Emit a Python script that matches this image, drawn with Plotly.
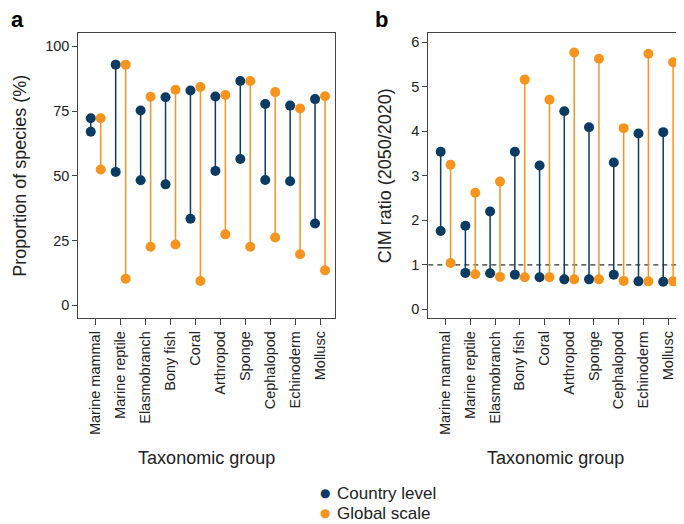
import plotly.graph_objects as go

categories = ["Marine mammal", "Marine reptile", "Elasmobranch", "Bony fish", "Coral",
              "Arthropod", "Sponge", "Cephalopod", "Echinoderm", "Mollusc"]

# Panel a: proportion of species (%)
a_country_high = [72.2, 92.9, 75.2, 80.3, 82.9, 80.6, 86.6, 77.7, 77.1, 79.6]
a_country_low = [67.0, 51.5, 48.3, 46.7, 33.4, 51.9, 56.5, 48.4, 47.9, 31.6]
a_global_high = [72.2, 92.9, 80.5, 83.2, 84.3, 81.2, 86.6, 82.3, 76.0, 80.7]
a_global_low = [52.4, 10.3, 22.6, 23.5, 9.4, 27.4, 22.6, 26.2, 19.7, 13.5]

# Panel b: CIM ratio (2050/2020)
b_country_high = [3.54, 1.88, 2.20, 3.54, 3.23, 4.45, 4.09, 3.30, 3.95, 3.98]
b_country_low = [1.76, 0.82, 0.81, 0.78, 0.72, 0.675, 0.675, 0.78, 0.63, 0.62]
b_global_high = [3.25, 2.62, 2.87, 5.16, 4.71, 5.77, 5.63, 4.07, 5.74, 5.55]
b_global_low = [1.04, 0.79, 0.73, 0.72, 0.72, 0.675, 0.675, 0.64, 0.63, 0.63]

series_names = ["Country level", "Global scale"]

NAVY = "#0b3a63"
ORANGE = "#f7941d"
FONT = "Liberation Sans"
TXT = "#222"
OFF = 0.2

# The page body has an 8px margin; figure is sized so the page fits the window.
W, H = 676, 516
def px(xr):
    return (xr - 8) / W
def py(yr):
    return 1 - (yr - 8) / H

def seg_xy(high, low, offset):
    xs, ys = [], []
    for i, (h, l) in enumerate(zip(high, low)):
        xs += [i + offset, i + offset, None]
        ys += [h, l, None]
    return xs, ys

fig = go.Figure()
panels = [("x", "y", a_country_high, a_country_low, a_global_high, a_global_low),
          ("x2", "y2", b_country_high, b_country_low, b_global_high, b_global_low)]
for xa, ya, ch, cl, gh, gl in panels:
    for high, low, off, col in [(ch, cl, -OFF, NAVY), (gh, gl, OFF, ORANGE)]:
        xs, ys = seg_xy(high, low, off)
        fig.add_trace(go.Scatter(x=xs, y=ys, xaxis=xa, yaxis=ya, mode="lines+markers",
                                 line=dict(color=col, width=1.5),
                                 marker=dict(color=col, size=10), showlegend=False,
                                 hoverinfo="skip"))

axis_common = dict(showline=True, linecolor="#444", linewidth=1, mirror=True,
                   ticks="outside", tickcolor="#444", showgrid=False, zeroline=False,
                   tickfont=dict(family=FONT, size=14.5, color=TXT))

xcommon = dict(axis_common, tickvals=list(range(len(categories))), ticktext=categories,
               tickangle=-90, range=[-0.7, 9.6], ticklen=6,
               title=dict(text="Taxonomic group", font=dict(family=FONT, size=18, color=TXT),
                          standoff=17),
               tickfont=dict(family=FONT, size=14.5, color=TXT))

ydom = [py(318.3), py(33.3)]
fig.update_layout(
    width=W, height=H,
    margin=dict(l=0, r=0, t=0, b=0),
    plot_bgcolor="white", paper_bgcolor="white",
    showlegend=False,
    xaxis=dict(xcommon, domain=[px(78.3), px(335)], anchor="y"),
    yaxis=dict(axis_common, domain=ydom, range=[-5, 105],
               tickvals=[0, 25, 50, 75, 100], ticklen=5, anchor="x",
               title=dict(text="Proportion of species (%)",
                          font=dict(family=FONT, size=18, color=TXT), standoff=13)),
    xaxis2=dict(xcommon, domain=[px(428.3), min(px(683), 1.0)], anchor="y2"),
    yaxis2=dict(axis_common, domain=ydom, range=[-0.2, 6.2],
                tickvals=[0, 1, 2, 3, 4, 5, 6], ticklen=5, anchor="x2",
                title=dict(text="CIM ratio (2050/2020)",
                           font=dict(family=FONT, size=18, color=TXT), standoff=15)),
    shapes=[dict(type="line", xref="x2 domain", yref="y2", x0=0, x1=1, y0=1, y1=1,
                 line=dict(color="#333", width=1.2, dash="5px,4px"), layer="below")],
)

# panel letters
fig.add_annotation(text="<b>a</b>", x=px(9), y=py(5), xref="paper", yref="paper",
                   xanchor="left", yanchor="top", showarrow=False,
                   font=dict(family=FONT, size=22, color="black"))
fig.add_annotation(text="<b>b</b>", x=px(373), y=py(5), xref="paper", yref="paper",
                   xanchor="left", yanchor="top", showarrow=False,
                   font=dict(family=FONT, size=22, color="black"))

# legend (dot + label)
for name, col, yr in [(series_names[0], NAVY, 493), (series_names[1], ORANGE, 513)]:
    fig.add_annotation(text="●", x=px(325), y=py(yr), xref="paper", yref="paper",
                       xanchor="center", yanchor="middle", showarrow=False,
                       font=dict(family="DejaVu Sans", size=12, color=col))
    fig.add_annotation(text=name, x=px(335), y=py(yr), xref="paper", yref="paper",
                       xanchor="left", yanchor="middle", showarrow=False,
                       font=dict(family=FONT, size=17, color=TXT))

fig.write_html("out.html")
